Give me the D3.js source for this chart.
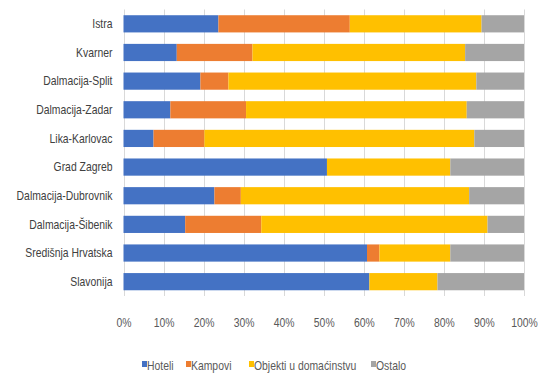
<!DOCTYPE html>
<html>
<head>
<meta charset="utf-8">
<script src="https://cdn.jsdelivr.net/npm/d3@7"></script>
<style>
  html, body { margin: 0; padding: 0; background: #fff; }
  svg { display: block; font-family: "Liberation Sans", Arial, sans-serif; }
</style>
</head>
<body>
<svg id="chart" width="539" height="374"></svg>
<script>
// Regions, top to bottom
const regions = ["Istra", "Kvarner", "Dalmacija-Split", "Dalmacija-Zadar", "Lika-Karlovac",
  "Grad Zagreb", "Dalmacija-Dubrovnik", "Dalmacija-Šibenik", "Središnja Hrvatska", "Slavonija"];

// Share of accommodation type per region (%)
const hoteli  = [23.7, 13.3, 19.2, 11.7,  7.5, 50.8, 22.7, 15.4, 60.8, 61.4];
const kampovi = [32.8, 18.9,  7.0, 18.9, 12.7,  0.0,  6.6, 19.0,  3.1,  0.0];
const objekti = [32.9, 53.1, 61.9, 55.1, 67.4, 30.8, 57.0, 56.5, 17.7, 17.0];
const ostalo  = [10.6, 14.7, 11.9, 14.3, 12.4, 18.4, 13.7,  9.1, 18.4, 21.6];

const seriesNames = ["Hoteli", "Kampovi", "Objekti u domaćinstvu", "Ostalo"];
const seriesColors = ["#4472C4", "#ED7D31", "#FFC000", "#A5A5A5"];
const tickValues = [0, 0.1, 0.2, 0.3, 0.4, 0.5, 0.6, 0.7, 0.8, 0.9, 1.0];

const rows = regions.map((r, i) => ({
  region: r,
  "Hoteli": hoteli[i],
  "Kampovi": kampovi[i],
  "Objekti u domaćinstvu": objekti[i],
  "Ostalo": ostalo[i]
}));

const stacked = d3.stack().keys(seriesNames).offset(d3.stackOffsetExpand)(rows);

const svg = d3.select("#chart");
const margin = { left: 123.5, right: 15, top: 9.5, bottom: 78 };
const W = 539, H = 374;
const FONT = 13;
const SQUEEZE = 0.8; // horizontal squeeze for a narrow-looking face

// squeeze a text horizontally around its own anchor point
function condense(sel) {
  sel.each(function () {
    const t = d3.select(this);
    const x0 = +t.attr("x") || 0;
    t.attr("x", x0 / SQUEEZE).attr("transform", `scale(${SQUEEZE},1)`);
  });
}

const x = d3.scaleLinear().domain([0, 1]).range([margin.left, W - margin.right]);
const y = d3.scaleBand().domain(regions).range([margin.top, H - margin.bottom]).paddingInner(0.4).paddingOuter(0.2);

// vertical gridlines
svg.append("g")
  .selectAll("line")
  .data(tickValues)
  .join("line")
  .attr("x1", d => Math.round(x(d)) + 0.5)
  .attr("x2", d => Math.round(x(d)) + 0.5)
  .attr("y1", margin.top)
  .attr("y2", H - margin.bottom)
  .attr("stroke", "#D9D9D9")
  .attr("stroke-width", 1);

// stacked bars
svg.append("g")
  .selectAll("g")
  .data(stacked)
  .join("g")
  .attr("fill", (d, i) => seriesColors[i])
  .selectAll("rect")
  .data(d => d)
  .join("rect")
  .attr("x", d => x(d[0]))
  .attr("y", d => y(d.data.region))
  .attr("width", d => Math.max(0, x(d[1]) - x(d[0])))
  .attr("height", y.bandwidth());

// x axis labels
const xAxis = d3.axisBottom(x).tickValues(tickValues).tickFormat(d3.format(".0%")).tickSize(0).tickPadding(0);
const gx = svg.append("g").attr("transform", `translate(0, 322)`).call(xAxis);
gx.select(".domain").remove();
gx.selectAll("text").attr("y", 0).attr("dy", "0.35em").attr("fill", "#595959").attr("font-size", FONT).attr("font-family", null)
  .call(condense);

// y axis labels
const yAxis = d3.axisLeft(y).tickSize(0).tickPadding(11);
const gy = svg.append("g").attr("transform", `translate(${margin.left}, 0)`).call(yAxis);
gy.select(".domain").remove();
gy.selectAll("text").attr("fill", "#404040").attr("font-size", FONT).attr("font-family", null)
  .call(condense);

// legend
const legendX = [142, 186, 249, 371];
const legendY = 365;
const lg = svg.append("g").selectAll("g").data(seriesNames).join("g")
  .attr("transform", (d, i) => `translate(${legendX[i]}, ${legendY})`);
lg.append("rect").attr("x", 0).attr("y", -4).attr("width", 5).attr("height", 6)
  .attr("fill", (d, i) => seriesColors[i]);
lg.append("text").attr("x", 5).attr("y", 0).attr("dy", "0.35em")
  .attr("font-size", FONT).attr("fill", "#595959").text(d => d)
  .call(condense);
</script>
</body>
</html>
